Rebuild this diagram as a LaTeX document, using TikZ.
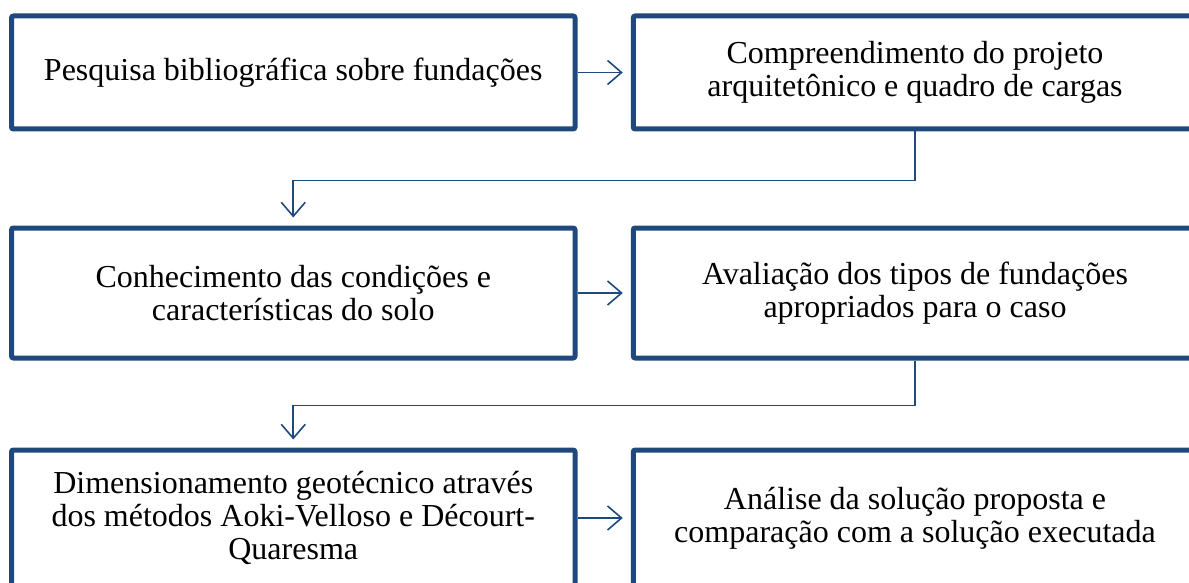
\documentclass[tikz,border=0pt]{standalone}
\usepackage{fontspec}
\setmainfont{Liberation Serif}
\usetikzlibrary{arrows.meta}
\definecolor{boxblue}{RGB}{31,73,125}
\begin{document}
\begin{tikzpicture}[
    x=0.5pt, y=-0.5pt,
    stage/.style={rectangle, draw=boxblue, line width=2.5pt, rounded corners=1pt, fill=white,
        minimum width=281.75pt, align=center, inner sep=0pt,
        font=\fontsize{16}{16.5}\selectfont},
    arrow/.style={-{Straight Barb[length=7pt,width=12pt]}, draw=boxblue, line width=0.8pt, shorten >=4pt}
]
\useasboundingbox (0,0) rectangle (1189,583);
\clip (0,0) rectangle (1189,583);

% Row 1
\node[stage, minimum height=56.5pt] (pesquisa) at (293.25,72.5) {Pesquisa bibliográfica sobre fundações};
\node[stage, minimum height=56.5pt] (projeto) at (915,72.5) {Compreendimento do projeto\\arquitetônico e quadro de cargas};

% Row 2
\node[stage, minimum height=65pt] (solo) at (293.25,293) {Conhecimento das condições e\\características do solo};
\node[stage, minimum height=65pt] (tipos) at (915,293) {Avaliação dos tipos de fundações\\apropriados para o caso};

% Row 3
\node[stage, minimum height=68pt] (dimensionamento) at (293.25,518) {Dimensionamento geotécnico através\\dos métodos Aoki-Velloso e Décourt-\\Quaresma};
\node[stage, minimum height=68pt] (analise) at (915,518) {Análise da solução proposta e\\comparação com a solução executada};

% Arrows
\draw[arrow] (pesquisa) -- (projeto);
\draw[arrow] (projeto.south) -- ++(0,49) -| (solo.north);
\draw[arrow] (solo) -- (tipos);
\draw[arrow] (tipos.south) -- ++(0,45) -| (dimensionamento.north);
\draw[arrow] (dimensionamento) -- (analise);

\end{tikzpicture}
\end{document}
